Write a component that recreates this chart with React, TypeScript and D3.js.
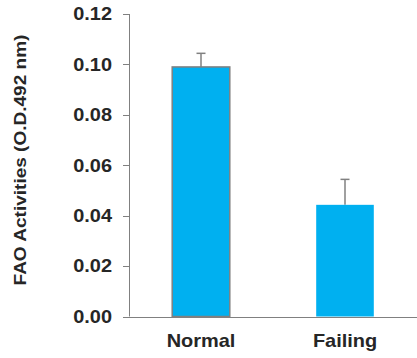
import React from "react";
import * as d3 from "d3";

const categories = ["Normal", "Failing"];
const values = [0.099, 0.0443];
const errors = [0.0054, 0.0101];
const yTicks = [0, 0.02, 0.04, 0.06, 0.08, 0.1, 0.12];
const yTitle = "FAO Activities (O.D.492 nm)";

const W = 417;
const H = 358;
const axisX = 129;
const font = "'Liberation Sans', Arial, sans-serif";
const textColor = "#262626";
const gray = "#808080";
const barColor = "#00B0F0";
const sx = 1.14;

export default function App() {
  const y = d3.scaleLinear().domain([0, 0.12]).range([316.5, 14]);
  const x = d3
    .scaleBand<string>()
    .domain(categories)
    .range([axisX, W])
    .paddingInner(0.6)
    .paddingOuter(0.3);
  const bw = x.bandwidth();

  return (
    <svg
      width={W}
      height={H}
      style={{ position: "absolute", left: 0, top: 0, background: "#fff" }}
    >
      {/* y axis */}
      <line x1={axisX + 0.5} x2={axisX + 0.5} y1={y(0.12)} y2={y(0)} stroke={gray} strokeWidth={1} />
      {yTicks.map((t) => (
        <g key={t}>
          <line x1={axisX - 6} x2={axisX} y1={Math.round(y(t)) + 0.5} y2={Math.round(y(t)) + 0.5} stroke={gray} />
          <text
            transform={`translate(112,${y(t) + 6.3}) scale(${sx},1)`}
            textAnchor="end"
            fontFamily={font}
            fontWeight="bold"
            fontSize={17.5}
            fill={textColor}
          >
            {t.toFixed(2)}
          </text>
        </g>
      ))}
      {/* bars */}
      {categories.map((c, i) => {
        const x0 = x(c)!;
        const cx = x0 + bw / 2;
        return (
          <g key={c}>
            <line x1={cx} x2={cx} y1={y(values[i])} y2={y(values[i] + errors[i])} stroke={gray} strokeWidth={1.5} />
            <line x1={cx - 4.5} x2={cx + 4.5} y1={y(values[i] + errors[i])} y2={y(values[i] + errors[i])} stroke={gray} strokeWidth={1.5} />
            <rect
              x={x0}
              y={y(values[i])}
              width={bw}
              height={y(0) - y(values[i])}
              fill={barColor}
              stroke={i === 0 ? gray : "none"}
              strokeWidth={1.5}
            />
            <text
              transform={`translate(${cx},347) scale(${sx},1)`}
              textAnchor="middle"
              fontFamily={font}
              fontWeight="bold"
              fontSize={17.5}
              fill={textColor}
            >
              {c}
            </text>
          </g>
        );
      })}
      {/* x axis */}
      <line x1={axisX - 6} x2={W} y1={Math.round(y(0)) + 0.5} y2={Math.round(y(0)) + 0.5} stroke={gray} />
      {/* y title */}
      <text
        transform={`translate(26,160) rotate(-90) scale(1.12,1)`}
        textAnchor="middle"
        fontFamily={font}
        fontWeight="bold"
        fontSize={17}
        fill={textColor}
      >
        {yTitle}
      </text>
    </svg>
  );
}
